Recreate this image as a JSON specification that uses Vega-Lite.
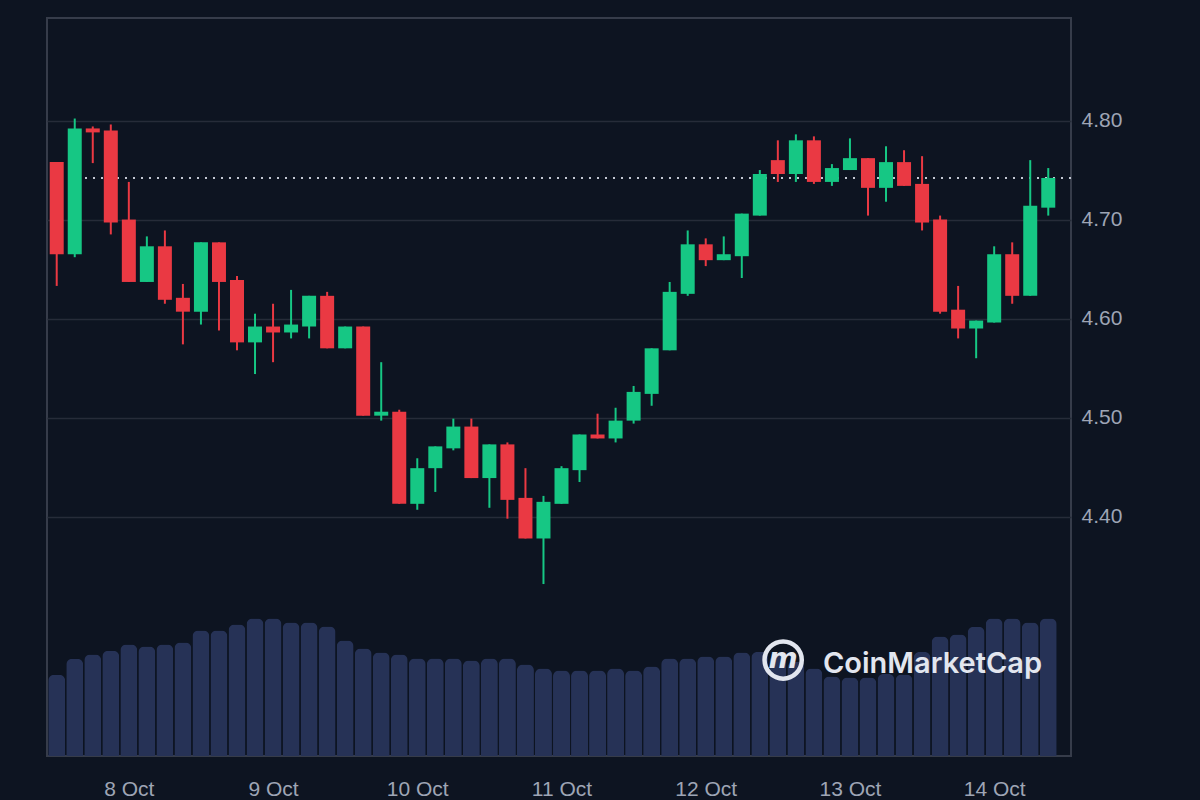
{
  "$schema": "https://vega.github.io/schema/vega-lite/v6.json",
  "width": 1024,
  "height": 738,
  "autosize": {"type": "none"},
  "padding": {"left": 47, "top": 18, "right": 129, "bottom": 44},
  "background": "#0d1421",
  "config": {
    "view": {"stroke": "#363c4a", "strokeWidth": 2},
    "scale": {"continuousPadding": 0},
    "axis": {
      "domain": false,
      "ticks": false,
      "labelFont": "Liberation Sans",
      "labelFontSize": 21,
      "labelColor": "#9ea5b5",
      "gridColor": "#262c39",
      "gridWidth": 1.5,
      "title": null
    }
  },
  "data": {
    "values": [
      {"t": "2024-10-07T12:00:00", "open": 4.758, "high": 4.758, "low": 4.633, "close": 4.665, "vol": 20.3},
      {"t": "2024-10-07T15:00:00", "open": 4.665, "high": 4.802, "low": 4.662, "close": 4.792, "vol": 24.3},
      {"t": "2024-10-07T18:00:00", "open": 4.792, "high": 4.794, "low": 4.757, "close": 4.788, "vol": 25.4},
      {"t": "2024-10-07T21:00:00", "open": 4.790, "high": 4.796, "low": 4.685, "close": 4.697, "vol": 26.3},
      {"t": "2024-10-08T00:00:00", "open": 4.700, "high": 4.738, "low": 4.637, "close": 4.637, "vol": 27.9},
      {"t": "2024-10-08T03:00:00", "open": 4.637, "high": 4.683, "low": 4.637, "close": 4.673, "vol": 27.4},
      {"t": "2024-10-08T06:00:00", "open": 4.673, "high": 4.689, "low": 4.615, "close": 4.619, "vol": 27.9},
      {"t": "2024-10-08T09:00:00", "open": 4.621, "high": 4.635, "low": 4.574, "close": 4.607, "vol": 28.4},
      {"t": "2024-10-08T12:00:00", "open": 4.607, "high": 4.677, "low": 4.594, "close": 4.677, "vol": 31.4},
      {"t": "2024-10-08T15:00:00", "open": 4.677, "high": 4.677, "low": 4.588, "close": 4.637, "vol": 31.4},
      {"t": "2024-10-08T18:00:00", "open": 4.639, "high": 4.643, "low": 4.568, "close": 4.576, "vol": 32.9},
      {"t": "2024-10-08T21:00:00", "open": 4.576, "high": 4.605, "low": 4.544, "close": 4.592, "vol": 34.4},
      {"t": "2024-10-09T00:00:00", "open": 4.592, "high": 4.615, "low": 4.556, "close": 4.586, "vol": 34.4},
      {"t": "2024-10-09T03:00:00", "open": 4.586, "high": 4.629, "low": 4.580, "close": 4.594, "vol": 33.4},
      {"t": "2024-10-09T06:00:00", "open": 4.592, "high": 4.623, "low": 4.580, "close": 4.623, "vol": 33.4},
      {"t": "2024-10-09T09:00:00", "open": 4.623, "high": 4.627, "low": 4.570, "close": 4.570, "vol": 32.4},
      {"t": "2024-10-09T12:00:00", "open": 4.570, "high": 4.592, "low": 4.570, "close": 4.592, "vol": 28.9},
      {"t": "2024-10-09T15:00:00", "open": 4.592, "high": 4.592, "low": 4.502, "close": 4.502, "vol": 26.9},
      {"t": "2024-10-09T18:00:00", "open": 4.502, "high": 4.556, "low": 4.497, "close": 4.506, "vol": 25.9},
      {"t": "2024-10-09T21:00:00", "open": 4.506, "high": 4.508, "low": 4.413, "close": 4.413, "vol": 25.4},
      {"t": "2024-10-10T00:00:00", "open": 4.413, "high": 4.459, "low": 4.407, "close": 4.449, "vol": 24.4},
      {"t": "2024-10-10T03:00:00", "open": 4.449, "high": 4.471, "low": 4.425, "close": 4.471, "vol": 24.4},
      {"t": "2024-10-10T06:00:00", "open": 4.469, "high": 4.499, "low": 4.467, "close": 4.491, "vol": 24.4},
      {"t": "2024-10-10T09:00:00", "open": 4.491, "high": 4.499, "low": 4.439, "close": 4.439, "vol": 23.9},
      {"t": "2024-10-10T12:00:00", "open": 4.439, "high": 4.473, "low": 4.409, "close": 4.473, "vol": 24.4},
      {"t": "2024-10-10T15:00:00", "open": 4.473, "high": 4.475, "low": 4.398, "close": 4.417, "vol": 24.4},
      {"t": "2024-10-10T18:00:00", "open": 4.419, "high": 4.449, "low": 4.378, "close": 4.378, "vol": 22.9},
      {"t": "2024-10-10T21:00:00", "open": 4.378, "high": 4.421, "low": 4.332, "close": 4.415, "vol": 21.9},
      {"t": "2024-10-11T00:00:00", "open": 4.413, "high": 4.451, "low": 4.413, "close": 4.449, "vol": 21.4},
      {"t": "2024-10-11T03:00:00", "open": 4.447, "high": 4.483, "low": 4.435, "close": 4.483, "vol": 21.4},
      {"t": "2024-10-11T06:00:00", "open": 4.483, "high": 4.504, "low": 4.479, "close": 4.479, "vol": 21.4},
      {"t": "2024-10-11T09:00:00", "open": 4.479, "high": 4.510, "low": 4.475, "close": 4.497, "vol": 21.9},
      {"t": "2024-10-11T12:00:00", "open": 4.497, "high": 4.532, "low": 4.494, "close": 4.526, "vol": 21.4},
      {"t": "2024-10-11T15:00:00", "open": 4.524, "high": 4.570, "low": 4.512, "close": 4.570, "vol": 22.4},
      {"t": "2024-10-11T18:00:00", "open": 4.568, "high": 4.637, "low": 4.568, "close": 4.627, "vol": 24.4},
      {"t": "2024-10-11T21:00:00", "open": 4.625, "high": 4.689, "low": 4.623, "close": 4.675, "vol": 24.4},
      {"t": "2024-10-12T00:00:00", "open": 4.675, "high": 4.681, "low": 4.653, "close": 4.659, "vol": 24.9},
      {"t": "2024-10-12T03:00:00", "open": 4.659, "high": 4.683, "low": 4.659, "close": 4.665, "vol": 24.9},
      {"t": "2024-10-12T06:00:00", "open": 4.663, "high": 4.706, "low": 4.641, "close": 4.706, "vol": 25.9},
      {"t": "2024-10-12T09:00:00", "open": 4.704, "high": 4.750, "low": 4.704, "close": 4.746, "vol": 26.0},
      {"t": "2024-10-12T12:00:00", "open": 4.760, "high": 4.780, "low": 4.738, "close": 4.746, "vol": 25.0},
      {"t": "2024-10-12T15:00:00", "open": 4.746, "high": 4.786, "low": 4.738, "close": 4.780, "vol": 23.5},
      {"t": "2024-10-12T18:00:00", "open": 4.780, "high": 4.784, "low": 4.736, "close": 4.738, "vol": 21.9},
      {"t": "2024-10-12T21:00:00", "open": 4.738, "high": 4.756, "low": 4.734, "close": 4.752, "vol": 19.9},
      {"t": "2024-10-13T00:00:00", "open": 4.750, "high": 4.782, "low": 4.750, "close": 4.762, "vol": 19.6},
      {"t": "2024-10-13T03:00:00", "open": 4.762, "high": 4.762, "low": 4.704, "close": 4.732, "vol": 19.6},
      {"t": "2024-10-13T06:00:00", "open": 4.732, "high": 4.774, "low": 4.718, "close": 4.758, "vol": 20.5},
      {"t": "2024-10-13T09:00:00", "open": 4.758, "high": 4.770, "low": 4.734, "close": 4.734, "vol": 20.4},
      {"t": "2024-10-13T12:00:00", "open": 4.736, "high": 4.764, "low": 4.689, "close": 4.697, "vol": 26.0},
      {"t": "2024-10-13T15:00:00", "open": 4.700, "high": 4.704, "low": 4.605, "close": 4.607, "vol": 29.9},
      {"t": "2024-10-13T18:00:00", "open": 4.609, "high": 4.633, "low": 4.580, "close": 4.590, "vol": 30.4},
      {"t": "2024-10-13T21:00:00", "open": 4.590, "high": 4.598, "low": 4.560, "close": 4.598, "vol": 32.3},
      {"t": "2024-10-14T00:00:00", "open": 4.596, "high": 4.673, "low": 4.596, "close": 4.665, "vol": 34.4},
      {"t": "2024-10-14T03:00:00", "open": 4.665, "high": 4.677, "low": 4.615, "close": 4.623, "vol": 34.4},
      {"t": "2024-10-14T06:00:00", "open": 4.623, "high": 4.760, "low": 4.623, "close": 4.714, "vol": 33.4},
      {"t": "2024-10-14T09:00:00", "open": 4.712, "high": 4.752, "low": 4.704, "close": 4.742, "vol": 34.4}
    ]
  },
  "resolve": {"scale": {"y": "independent"}},
  "layer": [
    {
      "mark": {"type": "bar", "width": 17, "color": "#263256", "cornerRadiusTopLeft": 6, "cornerRadiusTopRight": 6},
      "encoding": {
        "x": {
          "field": "t", "type": "temporal",
          "scale": {"domain": [{"year": 2024, "month": 10, "date": 7, "hours": 10, "minutes": 23}, {"year": 2024, "month": 10, "date": 14, "hours": 12, "minutes": 47}], "padding": 0},
          "axis": {"format": "%-d %b", "tickCount": {"interval": "day", "step": 1}, "grid": false, "labelPadding": 22, "labelFlush": false}
        },
        "y": {"field": "vol", "type": "quantitative", "scale": {"domain": [0, 184.5], "nice": false, "padding": 0}, "axis": null}
      }
    },
    {
      "layer": [
        {
          "data": {"values": [{"price": 4.742}]},
          "mark": {"type": "rule", "color": "#c3c8d3", "strokeWidth": 2, "strokeDash": [2, 6]},
          "encoding": {
            "y": {"field": "price", "type": "quantitative", "scale": {"domain": [4.1584, 4.9035], "nice": false, "zero": false},
              "axis": {"orient": "right", "values": [4.4, 4.5, 4.6, 4.7, 4.8], "format": ".2f", "grid": true, "labelPadding": 10}}
          }
        },
        {
          "mark": {"type": "rule", "strokeWidth": 2},
          "encoding": {
            "x": {"field": "t", "type": "temporal", "scale": {"domain": [{"year": 2024, "month": 10, "date": 7, "hours": 10, "minutes": 23}, {"year": 2024, "month": 10, "date": 14, "hours": 12, "minutes": 47}]}},
            "y": {"field": "low", "type": "quantitative", "scale": {"domain": [4.1584, 4.9035], "nice": false, "zero": false}},
            "y2": {"field": "high"},
            "color": {"condition": {"test": "datum.close >= datum.open", "value": "#16c784"}, "value": "#ea3943"}
          }
        },
        {
          "mark": {"type": "bar", "width": 14},
          "encoding": {
            "x": {"field": "t", "type": "temporal", "scale": {"domain": [{"year": 2024, "month": 10, "date": 7, "hours": 10, "minutes": 23}, {"year": 2024, "month": 10, "date": 14, "hours": 12, "minutes": 47}]}},
            "y": {"field": "open", "type": "quantitative", "scale": {"domain": [4.1584, 4.9035], "nice": false, "zero": false}},
            "y2": {"field": "close"},
            "color": {"condition": {"test": "datum.close >= datum.open", "value": "#16c784"}, "value": "#ea3943"}
          }
        },
        {
          "data": {"values": [{"label": "CoinMarketCap"}]},
          "mark": {"type": "text", "font": "Inter", "fontSize": 29, "fontWeight": 600, "color": "#e2e6ef", "align": "left", "baseline": "alphabetic"},
          "encoding": {
            "x": {"datum": {"year": 2024, "month": 10, "date": 12, "hours": 19, "minutes": 30}, "type": "temporal", "scale": {"domain": [{"year": 2024, "month": 10, "date": 7, "hours": 10, "minutes": 23}, {"year": 2024, "month": 10, "date": 14, "hours": 12, "minutes": 47}]}},
            "y": {"datum": 4.242, "type": "quantitative", "scale": {"domain": [4.1584, 4.9035], "nice": false, "zero": false}},
            "text": {"field": "label"}
          }
        },
        {
          "data": {"values": [{"icon": "m"}]},
          "mark": {"type": "point", "shape": "circle", "filled": false, "size": 1385, "strokeWidth": 4.5, "color": "#e2e6ef", "opacity": 1},
          "encoding": {
            "x": {"datum": {"year": 2024, "month": 10, "date": 12, "hours": 12, "minutes": 53}, "type": "temporal", "scale": {"domain": [{"year": 2024, "month": 10, "date": 7, "hours": 10, "minutes": 23}, {"year": 2024, "month": 10, "date": 14, "hours": 12, "minutes": 47}]}},
            "y": {"datum": 4.2553, "type": "quantitative", "scale": {"domain": [4.1584, 4.9035], "nice": false, "zero": false}}
          }
        },
        {
          "data": {"values": [{"icon": "m"}]},
          "mark": {"type": "text", "font": "DejaVu Sans", "fontSize": 28, "fontWeight": "bold", "fontStyle": "italic", "color": "#e2e6ef", "align": "center", "baseline": "middle"},
          "encoding": {
            "x": {"datum": {"year": 2024, "month": 10, "date": 12, "hours": 12, "minutes": 53}, "type": "temporal", "scale": {"domain": [{"year": 2024, "month": 10, "date": 7, "hours": 10, "minutes": 23}, {"year": 2024, "month": 10, "date": 14, "hours": 12, "minutes": 47}]}},
            "y": {"datum": 4.2553, "type": "quantitative", "scale": {"domain": [4.1584, 4.9035], "nice": false, "zero": false}},
            "text": {"field": "icon"}
          }
        }
      ]
    }
  ]
}
